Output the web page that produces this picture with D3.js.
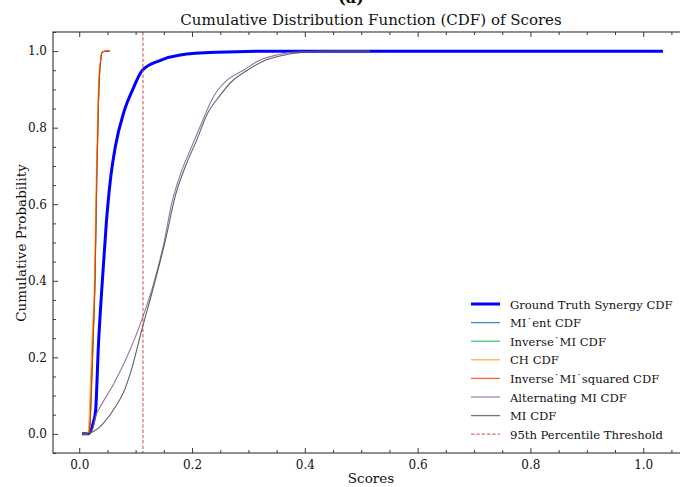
<!DOCTYPE html>
<html>
<head>
<meta charset="utf-8">
<script src="https://cdn.jsdelivr.net/npm/d3@7"></script>
<style>
    body { margin: 0; background: #fff; }
    svg text { font-family: "DejaVu Serif", serif; fill: #111; }
</style>
</head>
<body>
<div id="scene"></div>
<script>
// values
const groundTruthX = [0.005, 0.015, 0.021, 0.025, 0.029, 0.034, 0.041, 0.048, 0.055, 0.064, 0.079, 0.095, 0.112, 0.144, 0.179, 0.245, 0.35, 0.6, 1.035];
const groundTruthY = [0, 0, 0.01, 0.03, 0.06, 0.23, 0.40, 0.55, 0.66, 0.75, 0.84, 0.90, 0.95, 0.976, 0.99, 0.997, 1.0, 1.0, 1.0];

const miEntX = [0.007, 0.014, 0.018, 0.022, 0.025, 0.028, 0.031, 0.034, 0.036, 0.038, 0.040, 0.043, 0.048, 0.054];
const miEntY = [0, 0, 0.006, 0.14, 0.26, 0.40, 0.66, 0.86, 0.94, 0.975, 0.995, 0.999, 1.0, 1.0];

const inverseMiX = [0.007, 0.014, 0.018, 0.022, 0.025, 0.028, 0.031, 0.034, 0.036, 0.038, 0.040, 0.043, 0.048, 0.054];
const inverseMiY = [0, 0, 0.006, 0.15, 0.27, 0.41, 0.67, 0.86, 0.94, 0.975, 0.995, 0.999, 1.0, 1.0];

const chX = [0.007, 0.012, 0.016, 0.020, 0.023, 0.027, 0.030, 0.033, 0.035, 0.038, 0.040, 0.043, 0.048, 0.054];
const chY = [0, 0, 0.006, 0.14, 0.26, 0.40, 0.66, 0.86, 0.94, 0.975, 0.995, 0.999, 1.0, 1.0];

const inverseMiSquaredX = [0.007, 0.014, 0.018, 0.0225, 0.025, 0.028, 0.031, 0.034, 0.036, 0.038, 0.040, 0.043, 0.048, 0.054];
const inverseMiSquaredY = [0, 0, 0.006, 0.14, 0.26, 0.40, 0.66, 0.86, 0.94, 0.975, 0.995, 0.999, 1.0, 1.0];

const alternatingMiX = [0.005, 0.015, 0.023, 0.030, 0.037, 0.061, 0.085, 0.111, 0.132, 0.150, 0.164, 0.182, 0.197, 0.214, 0.238, 0.262, 0.291, 0.321, 0.350, 0.391, 0.45, 0.515];
const alternatingMiY = [0, 0, 0.01, 0.05, 0.07, 0.13, 0.202, 0.298, 0.393, 0.498, 0.602, 0.689, 0.742, 0.802, 0.881, 0.924, 0.950, 0.977, 0.990, 0.998, 1.0, 1.0];

const miX = [0.005, 0.013, 0.025, 0.037, 0.043, 0.064, 0.079, 0.091, 0.111, 0.132, 0.153, 0.170, 0.188, 0.209, 0.225, 0.25, 0.27, 0.298, 0.328, 0.358, 0.398, 0.45, 0.515];
const miY = [0, 0, 0.006, 0.019, 0.028, 0.07, 0.11, 0.16, 0.272, 0.385, 0.507, 0.62, 0.698, 0.77, 0.83, 0.885, 0.92, 0.95, 0.975, 0.988, 0.997, 1.0, 1.0];

const thresholdScore = 0.113;

const seriesNames = ["Ground Truth Synergy CDF", "MI\u02D9ent CDF", "Inverse\u02D9MI CDF", "CH CDF", "Inverse\u02D9MI\u02D9squared CDF", "Alternating MI CDF", "MI CDF"];
const thresholdName = "95th Percentile Threshold";
const xTickValues = [0.0, 0.2, 0.4, 0.6, 0.8, 1.0];
const yTickValues = [0.0, 0.2, 0.4, 0.6, 0.8, 1.0];

const width = 680;
const height = 487;
const plot = { left: 53, right: 692, top: 32, bottom: 453 };
const fontFamily = '"DejaVu Serif", serif';

const colors = ["#0000ff", "#0C5DA5", "#00B945", "#FF9500", "#FF2C00", "#845B97", "#474747"];

const pairs = (xs, ys) => xs.map((x, i) => ({ x: x, y: ys[i] }));
const series = [
    pairs(groundTruthX, groundTruthY),
    pairs(miEntX, miEntY),
    pairs(inverseMiX, inverseMiY),
    pairs(chX, chY),
    pairs(inverseMiSquaredX, inverseMiSquaredY),
    pairs(alternatingMiX, alternatingMiY),
    pairs(miX, miY),
];

const xScale = d3.scaleLinear().domain([-0.0465, 1.0865]).range([plot.left, plot.right]);
const yScale = d3.scaleLinear().domain([-0.05, 1.05]).range([plot.bottom, plot.top]);

const svg = d3.select("#scene")
    .append("svg")
    .attr("width", width)
    .attr("height", height);

const chart = svg.append("g");

const line = d3.line()
    .x((d) => xScale(d.x))
    .y((d) => yScale(d.y))
    .curve(d3.curveMonotoneX);

series.forEach((data, idx) => {
    chart.append("path")
        .datum(data)
        .attr("d", line)
        .attr("fill", "none")
        .attr("stroke", colors[idx])
        .attr("stroke-width", idx === 0 ? 3 : 1.1)
        .attr("stroke-opacity", idx === 0 ? 1 : 0.85)
        .attr("stroke-linejoin", "round");
});

// threshold line
chart.append("line")
    .attr("x1", xScale(thresholdScore))
    .attr("x2", xScale(thresholdScore))
    .attr("y1", plot.top)
    .attr("y2", plot.bottom)
    .attr("stroke", "#c8423f")
    .attr("stroke-opacity", 0.85)
    .attr("stroke-width", 1.1)
    .attr("stroke-dasharray", "3.5,1.8");

// axes: inward ticks on all four sides
const xMinor = d3.range(0, 1.09, 0.05).filter(v => Math.abs(v * 5 - Math.round(v * 5)) > 1e-6);
const yMinor = d3.range(-0.05, 1.06, 0.05).filter(v => Math.abs(v * 5 - Math.round(v * 5)) > 1e-6);

const bottomMajor = d3.axisBottom(xScale).tickValues(xTickValues).tickSize(-5).tickSizeOuter(0).tickPadding(7).tickFormat(d3.format(".1f"));
const bottomMinor = d3.axisBottom(xScale).tickValues(xMinor).tickSize(-3).tickSizeOuter(0).tickFormat("");
const topMajor = d3.axisTop(xScale).tickValues(xTickValues).tickSize(-5).tickSizeOuter(0).tickFormat("");
const topMinor = d3.axisTop(xScale).tickValues(xMinor).tickSize(-3).tickSizeOuter(0).tickFormat("");
const leftMajor = d3.axisLeft(yScale).tickValues(yTickValues).tickSize(-5).tickSizeOuter(0).tickPadding(6).tickFormat(d3.format(".1f"));
const leftMinor = d3.axisLeft(yScale).tickValues(yMinor).tickSize(-3).tickSizeOuter(0).tickFormat("");

[[bottomMajor, plot.bottom], [bottomMinor, plot.bottom], [topMajor, plot.top], [topMinor, plot.top]].forEach(([ax, pos]) => {
    chart.append("g").attr("class", "axis").attr("transform", `translate(0,${pos})`).call(ax);
});
[[leftMajor, plot.left], [leftMinor, plot.left]].forEach(([ax, pos]) => {
    chart.append("g").attr("class", "axis").attr("transform", `translate(${pos},0)`).call(ax);
});

chart.selectAll(".axis").attr("font-family", fontFamily).attr("font-size", 12);
chart.selectAll(".axis .domain").remove();
chart.selectAll(".axis line").attr("stroke", "#222").attr("stroke-width", 0.9);
chart.selectAll(".axis text").attr("fill", "#111");

// frame
chart.append("rect")
    .attr("x", plot.left)
    .attr("y", plot.top)
    .attr("width", plot.right - plot.left)
    .attr("height", plot.bottom - plot.top)
    .attr("fill", "none")
    .attr("stroke", "#333")
    .attr("stroke-width", 1.1);

// titles and labels
svg.append("text")
    .attr("x", 351)
    .attr("y", 3)
    .attr("text-anchor", "middle")
    .attr("font-size", 16)
    .attr("font-weight", "bold")
    .text("(a)");

svg.append("text")
    .attr("x", 371)
    .attr("y", 25)
    .attr("text-anchor", "middle")
    .attr("font-size", 15)
    .text("Cumulative Distribution Function (CDF) of Scores");

svg.append("text")
    .attr("x", 371)
    .attr("y", 483)
    .attr("text-anchor", "middle")
    .attr("font-size", 13.5)
    .text("Scores");

svg.append("text")
    .attr("transform", "translate(26,243) rotate(-90)")
    .attr("text-anchor", "middle")
    .attr("font-size", 13.5)
    .text("Cumulative Probability");

// legend
const legendNames = seriesNames.concat([thresholdName]);
const legendX = 471;
const legendY = 304;
const legendStep = 18.6;

const legend = svg.append("g");
legendNames.forEach((name, idx) => {
    const y = legendY + idx * legendStep;
    const isThreshold = idx === legendNames.length - 1;
    legend.append("line")
        .attr("x1", legendX)
        .attr("x2", legendX + 29)
        .attr("y1", y)
        .attr("y2", y)
        .attr("stroke", isThreshold ? "#c8423f" : colors[idx])
        .attr("stroke-opacity", idx === 0 ? 1 : 0.75)
        .attr("stroke-width", idx === 0 ? 3 : 1.3)
        .attr("stroke-dasharray", isThreshold ? "3.5,1.8" : null);
    legend.append("text")
        .attr("x", legendX + 39)
        .attr("y", y + 4.5)
        .attr("font-size", 11.6)
        .text(name);
});
</script>
</body>
</html>
